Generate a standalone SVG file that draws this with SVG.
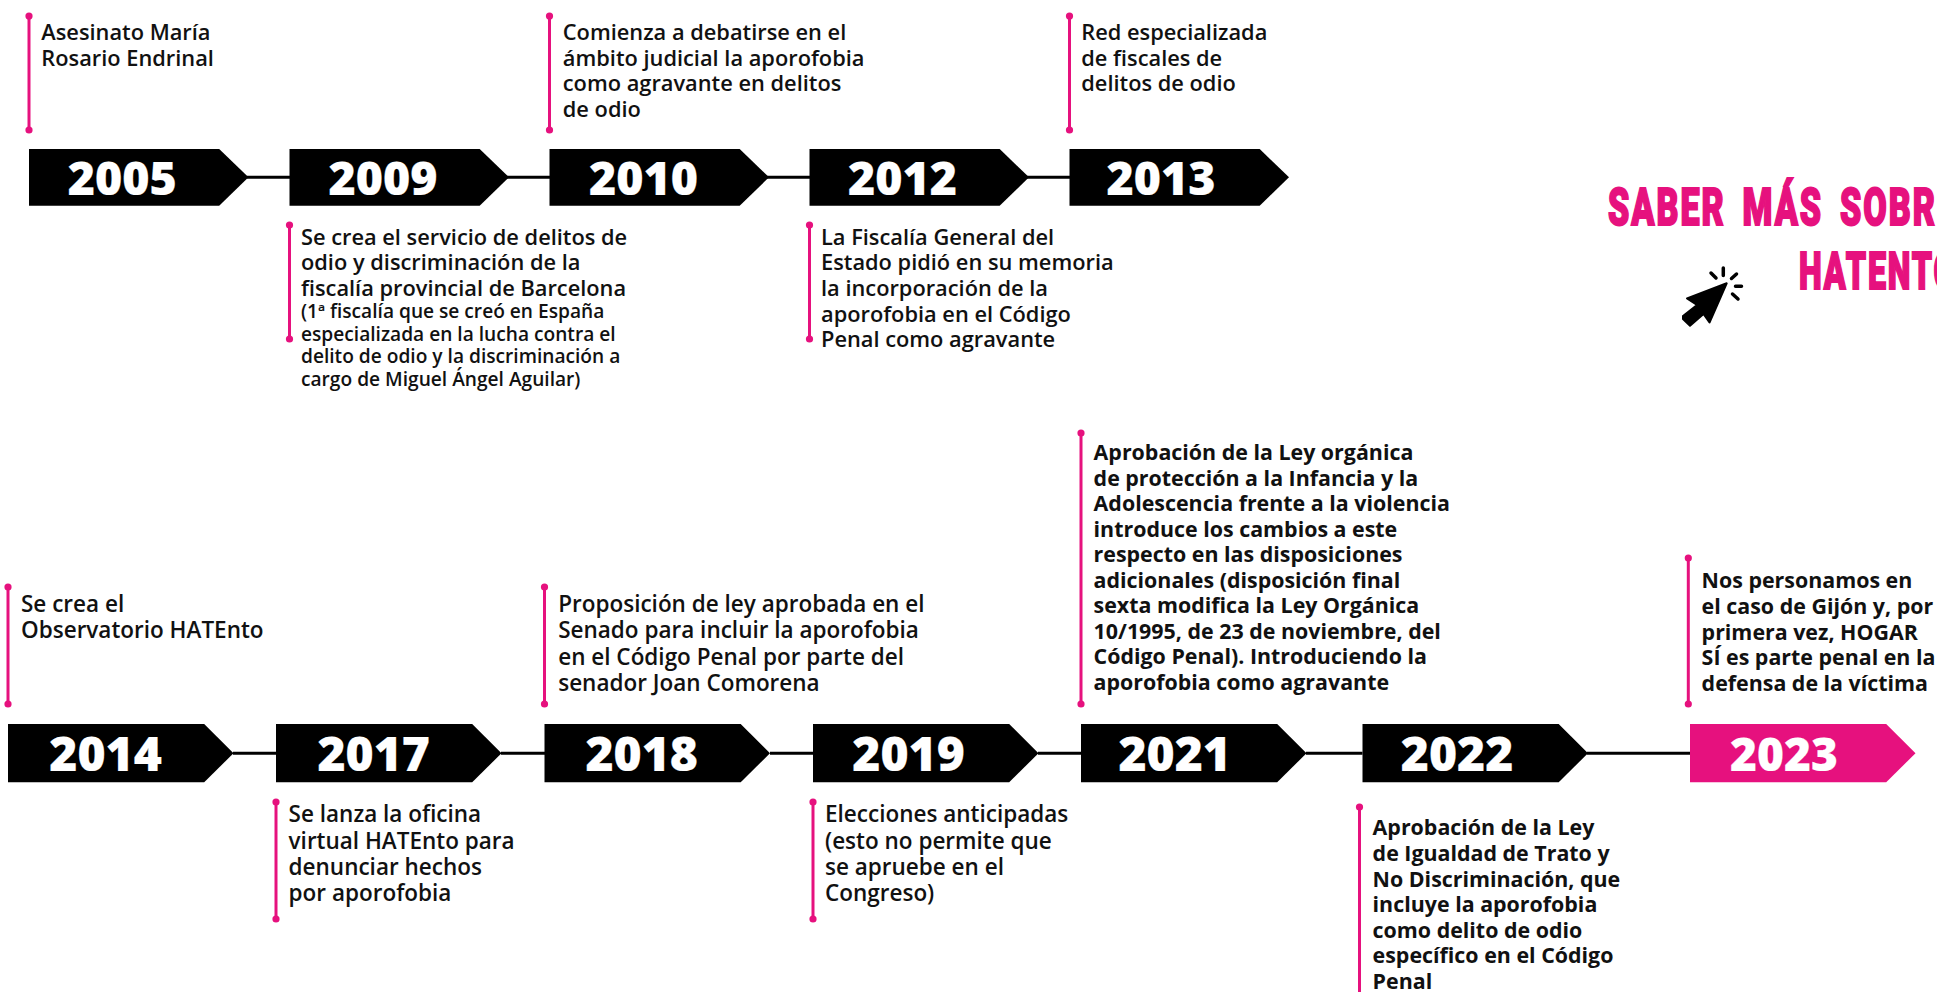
<svg xmlns="http://www.w3.org/2000/svg" width="1937" height="992" viewBox="0 0 1937 992">
<style>
.t{font-family:"Open Sans","Noto Sans",sans-serif;font-size:21.8px;font-weight:600;fill:#111}
.r{font-size:22.5px}
.b{font-size:21.4px;font-weight:700}
.s{font-size:19.15px}
.y{font-family:"Open Sans","Noto Sans",sans-serif;font-size:46.5px;font-weight:800;fill:#fff;text-anchor:middle;stroke:#fff;stroke-width:.2}
.y2{font-size:48px}
.y3{font-size:46px}
.p{fill:#e6117e}
.st{stroke:#e6117e;stroke-width:3;fill:none}
.c{stroke:#000;stroke-width:3;fill:none}
.h{font-family:"Roboto","Liberation Sans",sans-serif;font-size:52px;font-weight:900;fill:#e6117e;stroke:#e6117e;stroke-width:2;stroke-linejoin:miter;letter-spacing:3px;word-spacing:10px}
</style>
<defs>
<polygon id="ar1" points="0,0 190.200,0 219.500,28.300 190.200,56.700 0,56.700"/>
<polygon id="ar2" points="0,0 196.200,0 225.500,29.200 196.200,58.300 0,58.300"/>
</defs>
<rect width="1937" height="992" fill="#fff"/>
<g id="connectors">
<path class="c" d="M247 177.300H290M507 177.300H550M767 177.300H810M1027 177.300H1070M233 753.200H277M501 753.200H545M770 753.200H813M1038 753.200H1082M1306 753.200H1362.500M1587 753.200H1690.500"/>
</g>
<g id="n2005"><path class="st" d="M29 16V130"/><circle cx="29" cy="16" r="3.600" class="p"/><circle cx="29" cy="130" r="3.600" class="p"/><use href="#ar1" x="29" y="149"/><text class="y" x="122.300" y="195">2005</text>
<text class="t" x="41.300" y="39.500">Asesinato María</text><text class="t" x="41.300" y="65.500">Rosario Endrinal</text></g>
<g id="n2009"><path class="st" d="M289.500 225V339"/><circle cx="289.500" cy="225" r="3.600" class="p"/><circle cx="289.500" cy="339" r="3.600" class="p"/><use href="#ar1" x="289.500" y="149"/><text class="y" x="383" y="195">2009</text>
<text class="t" x="301" y="245">Se crea el servicio de delitos de</text><text class="t" x="301" y="270">odio y discriminación de la</text><text class="t" x="301" y="296">fiscalía provincial de Barcelona</text>
<text class="t s" x="301" y="318.300">(1ª fiscalía que se creó en España</text><text class="t s" x="301" y="340.700">especializada en la lucha contra el</text><text class="t s" x="301" y="363.300">delito de odio y la discriminación a</text><text class="t s" x="301" y="385.700">cargo de Miguel Ángel Aguilar)</text></g>
<g id="n2010"><path class="st" d="M549.500 16V130"/><circle cx="549.500" cy="16" r="3.600" class="p"/><circle cx="549.500" cy="130" r="3.600" class="p"/><use href="#ar1" x="549.500" y="149"/><text class="y" x="643.600" y="195">2010</text>
<text class="t" x="562.800" y="39.500">Comienza a debatirse en el</text><text class="t" x="562.800" y="65.500">ámbito judicial la aporofobia</text><text class="t" x="562.800" y="91">como agravante en delitos</text><text class="t" x="562.800" y="116.500">de odio</text></g>
<g id="n2012"><path class="st" d="M809.500 225V339"/><circle cx="809.500" cy="225" r="3.600" class="p"/><circle cx="809.500" cy="339" r="3.600" class="p"/><use href="#ar1" x="809.500" y="149"/><text class="y" x="902.400" y="195">2012</text>
<text class="t" x="821" y="245">La Fiscalía General del</text><text class="t" x="821" y="270">Estado pidió en su memoria</text><text class="t" x="821" y="296">la incorporación de la</text><text class="t" x="821" y="321.500">aporofobia en el Código</text><text class="t" x="821" y="347">Penal como agravante</text></g>
<g id="n2013"><path class="st" d="M1069.500 16V130"/><circle cx="1069.500" cy="16" r="3.600" class="p"/><circle cx="1069.500" cy="130" r="3.600" class="p"/><use href="#ar1" x="1069.500" y="149"/><text class="y" x="1161" y="195">2013</text>
<text class="t" x="1081.300" y="39.500">Red especializada</text><text class="t" x="1081.300" y="65.500">de fiscales de</text><text class="t" x="1081.300" y="91">delitos de odio</text></g>
<g id="saber"><text class="h" transform="translate(1608 225) scale(.655 1)">SABER MÁS SOBRE</text><text class="h" transform="translate(1799 288.500) scale(.62 1)">HATENTO</text>
<path fill="#000" stroke="#000" stroke-width="2" stroke-linejoin="round" d="M1726.700 283.300L1687 298.500L1697 305L1683 316V319L1690 325.700L1703.500 314L1709.500 322.500Z"/>
<path stroke="#000" stroke-width="3.500" stroke-linecap="round" fill="none" d="M1711 273L1716 278M1723.300 268V275.500M1736.500 274L1731.500 278.500M1735.500 286.300H1741.500M1732.500 294L1738 299"/></g>
<g id="n2014"><path class="st" d="M8 587V704"/><circle cx="8" cy="587" r="3.600" class="p"/><circle cx="8" cy="704" r="3.600" class="p"/><use href="#ar2" x="8" y="724"/><text class="y y2" x="105.600" y="771.300">2014</text>
<text class="t r" x="21" y="612">Se crea el</text><text class="t r" x="21" y="638">Observatorio HATEnto</text></g>
<g id="n2017"><path class="st" d="M276 802V919"/><circle cx="276" cy="802" r="3.600" class="p"/><circle cx="276" cy="919" r="3.600" class="p"/><use href="#ar2" x="276" y="724"/><text class="y y2" x="373.700" y="771.300">2017</text>
<text class="t r" x="288.600" y="822">Se lanza la oficina</text><text class="t r" x="288.600" y="849">virtual HATEnto para</text><text class="t r" x="288.600" y="875">denunciar hechos</text><text class="t r" x="288.600" y="901">por aporofobia</text></g>
<g id="n2018"><path class="st" d="M544.500 587V704"/><circle cx="544.500" cy="587" r="3.600" class="p"/><circle cx="544.500" cy="704" r="3.600" class="p"/><use href="#ar2" x="544.500" y="724"/><text class="y y2" x="641.700" y="771.300">2018</text>
<text class="t r" x="558.200" y="612">Proposición de ley aprobada en el</text><text class="t r" x="558.200" y="638.300">Senado para incluir la aporofobia</text><text class="t r" x="558.200" y="665">en el Código Penal por parte del</text><text class="t r" x="558.200" y="691">senador Joan Comorena</text></g>
<g id="n2019"><path class="st" d="M813 802V919"/><circle cx="813" cy="802" r="3.600" class="p"/><circle cx="813" cy="919" r="3.600" class="p"/><use href="#ar2" x="813" y="724"/><text class="y y2" x="908.500" y="771.300">2019</text>
<text class="t r" x="825" y="822">Elecciones anticipadas</text><text class="t r" x="825" y="849">(esto no permite que</text><text class="t r" x="825" y="875">se apruebe en el</text><text class="t r" x="825" y="901">Congreso)</text></g>
<g id="n2021"><path class="st" d="M1081 433V704"/><circle cx="1081" cy="433" r="3.600" class="p"/><circle cx="1081" cy="704" r="3.600" class="p"/><use href="#ar2" x="1081" y="724"/><text class="y y2" x="1174.700" y="771.300">2021</text>
<text class="t b" x="1093.600" y="460">Aprobación de la Ley orgánica</text><text class="t b" x="1093.600" y="485.500">de protección a la Infancia y la</text><text class="t b" x="1093.600" y="511">Adolescencia frente a la violencia</text><text class="t b" x="1093.600" y="536.500">introduce los cambios a este</text><text class="t b" x="1093.600" y="562">respecto en las disposiciones</text><text class="t b" x="1093.600" y="587.500">adicionales (disposición final</text><text class="t b" x="1093.600" y="613">sexta modifica la Ley Orgánica</text><text class="t b" x="1093.600" y="638.500">10/1995, de 23 de noviembre, del</text><text class="t b" x="1093.600" y="664.300">Código Penal). Introduciendo la</text><text class="t b" x="1093.600" y="690">aporofobia como agravante</text></g>
<g id="n2022"><path class="st" d="M1359.500 807V992"/><circle cx="1359.500" cy="807" r="3.600" class="p"/><use href="#ar2" x="1362.500" y="724"/><text class="y y2" x="1457" y="771.300">2022</text>
<text class="t b" x="1372.600" y="834.500">Aprobación de la Ley</text><text class="t b" x="1372.600" y="860.700">de Igualdad de Trato y</text><text class="t b" x="1372.600" y="886.500">No Discriminación, que</text><text class="t b" x="1372.600" y="912">incluye la aporofobia</text><text class="t b" x="1372.600" y="937.700">como delito de odio</text><text class="t b" x="1372.600" y="963.300">específico en el Código</text><text class="t b" x="1372.600" y="989">Penal</text></g>
<g id="n2023"><path class="st" d="M1688.300 558V704"/><circle cx="1688.300" cy="558" r="3.600" class="p"/><circle cx="1688.300" cy="704" r="3.600" class="p"/><use href="#ar2" x="1690" y="724" class="p"/><text class="y y3" x="1784" y="771">2023</text>
<text class="t b" x="1701.600" y="588.300">Nos personamos en</text><text class="t b" x="1701.600" y="614">el caso de Gijón y, por</text><text class="t b" x="1701.600" y="640">primera vez, HOGAR</text><text class="t b" x="1701.600" y="665.300">SÍ es parte penal en la</text><text class="t b" x="1701.600" y="690.700">defensa de la víctima</text></g>
</svg>
